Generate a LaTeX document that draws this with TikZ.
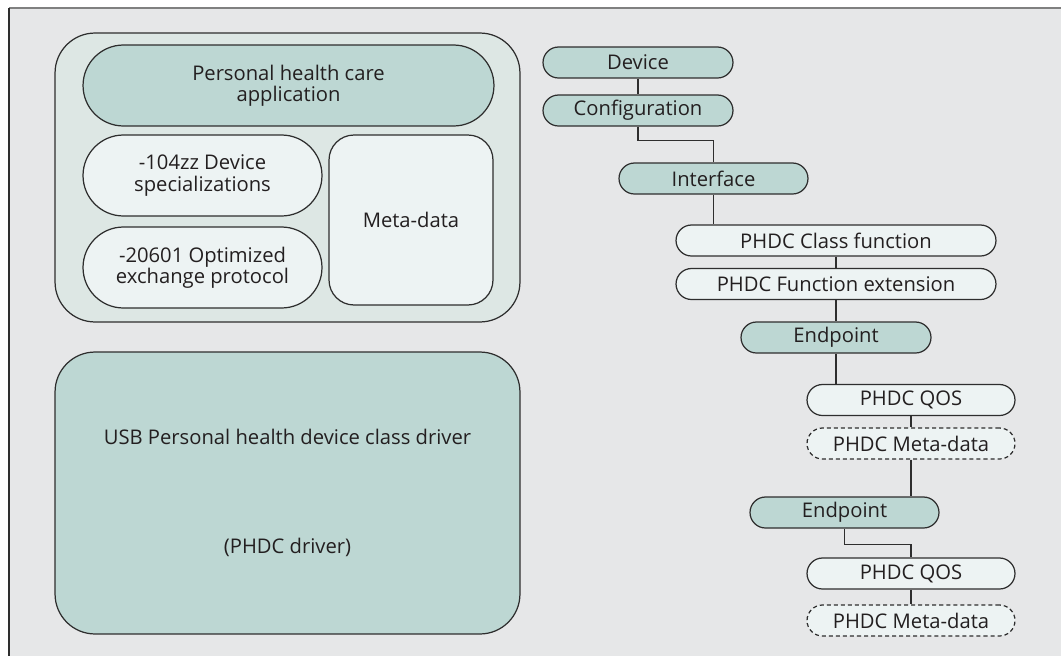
\documentclass[tikz,border=0pt]{standalone}
\usepackage{fontspec}
\setmainfont{Open Sans}

\definecolor{fondo}{HTML}{E6E7E8}
\definecolor{verde}{HTML}{BDD7D3}
\definecolor{verdeclaro}{HTML}{DDE7E4}
\definecolor{palido}{HTML}{EDF3F3}
\definecolor{trazo}{HTML}{2E2E2E}
\definecolor{letra}{HTML}{231F20}

\tikzset{
  phdc layout/.style={
      x=0.02cm, y=-0.02cm,
      box/.style={draw=trazo, line width=0.7pt, align=center, inner sep=0pt},
      dark pill/.style={box, fill=verde, rounded corners=0.31cm, minimum height=0.62cm},
      light pill/.style={box, fill=palido, rounded corners=0.31cm, minimum height=0.62cm},
      meta pill/.style={light pill, dash pattern=on 2.3pt off 1.7pt},
      link/.style={draw=trazo, line width=0.7pt},
      every node/.style={font={\fontsize{11.5}{12.2}\selectfont}, text=letra},
    },
}

\begin{document}
\begin{tikzpicture}[phdc layout]
    \useasboundingbox (0,0) rectangle (1061,656);
    \fill[fondo] (9,8) rectangle (1061,656);
    \draw[gray, line width=1.2pt] (9,8) -- (1061,8);
    \draw[trazo, line width=0.6pt] (9,8) -- (9,656);

    % host side stack
    \node[box, fill=verdeclaro, rounded corners=0.8cm, minimum width=9.3cm, minimum height=5.78cm] (stack) at (287.5,177.5) {};
    \node[box, fill=verde, rounded corners=0.81cm, minimum width=8.22cm, minimum height=1.62cm] (app) at (288.5,85.5) {Personal health care\\application};
    \node[box, fill=palido, rounded corners=0.81cm, minimum width=4.78cm, minimum height=1.62cm] (spec) at (202.5,175.5) {-104zz Device\\specializations};
    \node[box, fill=palido, rounded corners=0.81cm, minimum width=4.78cm, minimum height=1.62cm] (proto) at (202.5,267.5) {-20601 Optimized\\exchange protocol};
    \node[box, fill=palido, rounded corners=0.5cm, minimum width=3.28cm, minimum height=3.4cm] (meta) at (411,220) {Meta-data};
    \node[box, fill=verde, rounded corners=0.8cm, minimum width=9.3cm, minimum height=5.64cm] (driver) at (287.5,493) {USB Personal health device class driver\\[1.75cm](PHDC driver)};

    % descriptor tree
    \node[dark pill, minimum width=3.8cm] (dev) at (638,62.5) {Device};
    \node[dark pill, minimum width=3.8cm] (conf) at (638,110.5) {Configuration};
    \node[dark pill, minimum width=3.78cm] (intf) at (713.5,178.5) {Interface};
    \node[light pill, minimum width=6.4cm] (cls) at (836,240.5) {PHDC Class function};
    \node[light pill, minimum width=6.4cm] (ext) at (836,284) {PHDC Function extension};
    \node[dark pill, minimum width=3.8cm] (ep1) at (836,337.5) {Endpoint};
    \node[light pill, minimum width=4.16cm] (qos1) at (911,400) {PHDC QOS};
    \node[meta pill, minimum width=4.16cm] (md1) at (911,443.5) {PHDC Meta-data};
    \node[dark pill, minimum width=3.78cm] (ep2) at (844.5,512.5) {Endpoint};
    \node[light pill, minimum width=4.16cm] (qos2) at (911,573.5) {PHDC QOS};
    \node[meta pill, minimum width=4.16cm] (md2) at (911,620.5) {PHDC Meta-data};

    \draw[link] (dev) -- (conf);
    \draw[link] (conf.south) -- ++(0,-0.28cm) -| (intf.north);
    \draw[link] (intf.south) -- (intf.south |- cls.north);
    \draw[link] (cls) -- (ext);
    \draw[link] (ext) -- (ep1);
    \draw[link] (ep1.south) -- (ep1.south |- qos1.north);
    \draw[link] (qos1) -- (md1);
    \draw[link] (md1.south) -- (md1.south |- ep2.north);
    \draw[link] (ep2.south) -- ++(0,-0.32cm) -| (qos2.north);
    \draw[link] (qos2) -- (md2);
  \end{tikzpicture}
\end{document}
